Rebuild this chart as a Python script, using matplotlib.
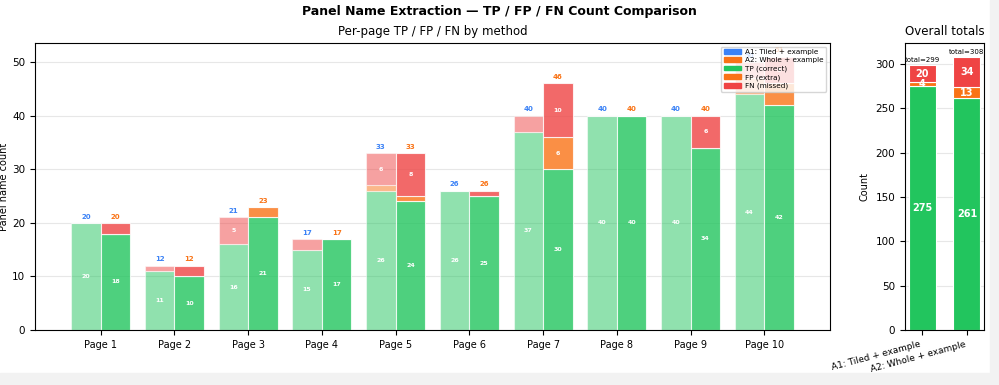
import matplotlib
matplotlib.use('Agg')
import matplotlib.pyplot as plt
from matplotlib.patches import Patch, Rectangle
import numpy as np

pages = ['Page 1', 'Page 2', 'Page 3', 'Page 4', 'Page 5',
         'Page 6', 'Page 7', 'Page 8', 'Page 9', 'Page 10']
methods = ['A1: Tiled + example', 'A2: Whole + example']

a1_tp = [20, 11, 16, 15, 26, 26, 37, 40, 40, 44]
a1_fp = [0, 0, 0, 0, 1, 0, 0, 0, 0, 3]
a1_fn = [0, 1, 5, 2, 6, 0, 3, 0, 0, 3]

a2_tp = [18, 10, 21, 17, 24, 25, 30, 40, 34, 42]
a2_fp = [0, 0, 2, 0, 1, 0, 6, 0, 0, 4]
a2_fn = [2, 2, 0, 0, 8, 1, 10, 0, 6, 5]

GREEN = '#22c55e'
ORANGE = '#f97316'
RED = '#ef4444'
BLUE = '#3b82f6'

fig = plt.figure(figsize=(9.99, 3.85), dpi=100)
W, H = 999, 385
ax = fig.add_axes([35 / W, 1 - 330 / H, 795 / W, 287 / H])
ax2 = fig.add_axes([905 / W, 1 - 330 / H, 79 / W, 287 / H])

x = np.arange(len(pages))
w = 0.4
runs = [(a1_tp, a1_fp, a1_fn, -w / 2, 0.5, BLUE),
        (a2_tp, a2_fp, a2_fn, w / 2, 0.8, ORANGE)]
for tp, fp, fn, off, alpha, lc in runs:
    tp = np.array(tp); fp = np.array(fp); fn = np.array(fn)
    ax.bar(x + off, tp, w, color=GREEN, alpha=alpha, edgecolor='white', linewidth=0.8)
    ax.bar(x + off, fp, w, bottom=tp, color=ORANGE, alpha=alpha, edgecolor='white', linewidth=0.8)
    ax.bar(x + off, fn, w, bottom=tp + fp, color=RED, alpha=alpha, edgecolor='white', linewidth=0.8)
    tot = tp + fp + fn
    for i in range(len(pages)):
        ax.text(x[i] + off, tot[i] + 0.6, str(tot[i]), ha='center', va='bottom',
                fontsize=5, color=lc, fontweight='bold')
        ax.text(x[i] + off, tp[i] / 2, str(tp[i]), ha='center', va='center',
                fontsize=4.5, color='white', fontweight='bold')
        if fp[i] >= 5:
            ax.text(x[i] + off, tp[i] + fp[i] / 2, str(fp[i]), ha='center', va='center',
                    fontsize=4.5, color='white', fontweight='bold')
        if fn[i] >= 5:
            ax.text(x[i] + off, tp[i] + fp[i] + fn[i] / 2, str(fn[i]), ha='center', va='center',
                    fontsize=4.5, color='white', fontweight='bold')

ax.set_xticks(x)
ax.set_xticklabels(pages, fontsize=7)
ax.tick_params(axis='y', labelsize=7.5)
ax.set_ylabel('Panel name count', fontsize=7, labelpad=2)
ax.set_title('Per-page TP / FP / FN by method', fontsize=8.5)
ax.grid(axis='y', alpha=0.3)
ax.set_axisbelow(True)

handles = [Patch(color=BLUE, label=methods[0]),
           Patch(color=ORANGE, label=methods[1]),
           Patch(color=GREEN, label='TP (correct)'),
           Patch(color=ORANGE, label='FP (extra)'),
           Patch(color=RED, label='FN (missed)')]
ax.legend(handles=handles, loc='upper right', fontsize=5.2, handlelength=2.4,
          handleheight=0.6, borderpad=0.35, labelspacing=0.3, handletextpad=0.6)

# overall totals
tot_tp = [sum(a1_tp), sum(a2_tp)]
tot_fp = [sum(a1_fp), sum(a2_fp)]
tot_fn = [sum(a1_fn), sum(a2_fn)]
xm = np.arange(2)
wm = 0.6
tp = np.array(tot_tp); fp = np.array(tot_fp); fn = np.array(tot_fn)
ax2.bar(xm, tp, wm, color=GREEN, edgecolor='white', linewidth=0.8)
ax2.bar(xm, fp, wm, bottom=tp, color=ORANGE, edgecolor='white', linewidth=0.8)
ax2.bar(xm, fn, wm, bottom=tp + fp, color=RED, edgecolor='white', linewidth=0.8)
for i in range(2):
    ax2.text(xm[i], tp[i] / 2, str(tp[i]), ha='center', va='center',
             fontsize=7, color='white', fontweight='bold')
    ax2.text(xm[i], tp[i] + fp[i] / 2, str(fp[i]), ha='center', va='center',
             fontsize=7, color='white', fontweight='bold')
    ax2.text(xm[i], tp[i] + fp[i] + fn[i] / 2, str(fn[i]), ha='center', va='center',
             fontsize=7, color='white', fontweight='bold')
    total = tp[i] + fp[i] + fn[i]
    ax2.text(xm[i], total + 2, f'total={total}', ha='center', va='bottom', fontsize=5)
ax2.set_xticks(xm)
ax2.set_xticklabels(methods, rotation=15, ha='right', fontsize=6.5)
ax2.tick_params(axis='y', labelsize=7.5)
ax2.set_ylabel('Count', fontsize=7)
ax2.set_title('Overall totals', fontsize=8.5)
ax2.grid(axis='y', alpha=0.3)
ax2.set_axisbelow(True)

fig.suptitle('Panel Name Extraction — TP / FP / FN Count Comparison',
             fontsize=9, fontweight='bold', y=1 - 12 / H, va='center')

# screenshot frame strips
fig.patches.append(Rectangle((0, 0), 1, 12 / H, transform=fig.transFigure,
                             color='#f2f2f2', zorder=-1))
fig.patches.append(Rectangle((990 / W, 0), 9 / W, 1, transform=fig.transFigure,
                             color='#f2f2f2', zorder=-1))

fig.savefig('out.png', dpi=100)
